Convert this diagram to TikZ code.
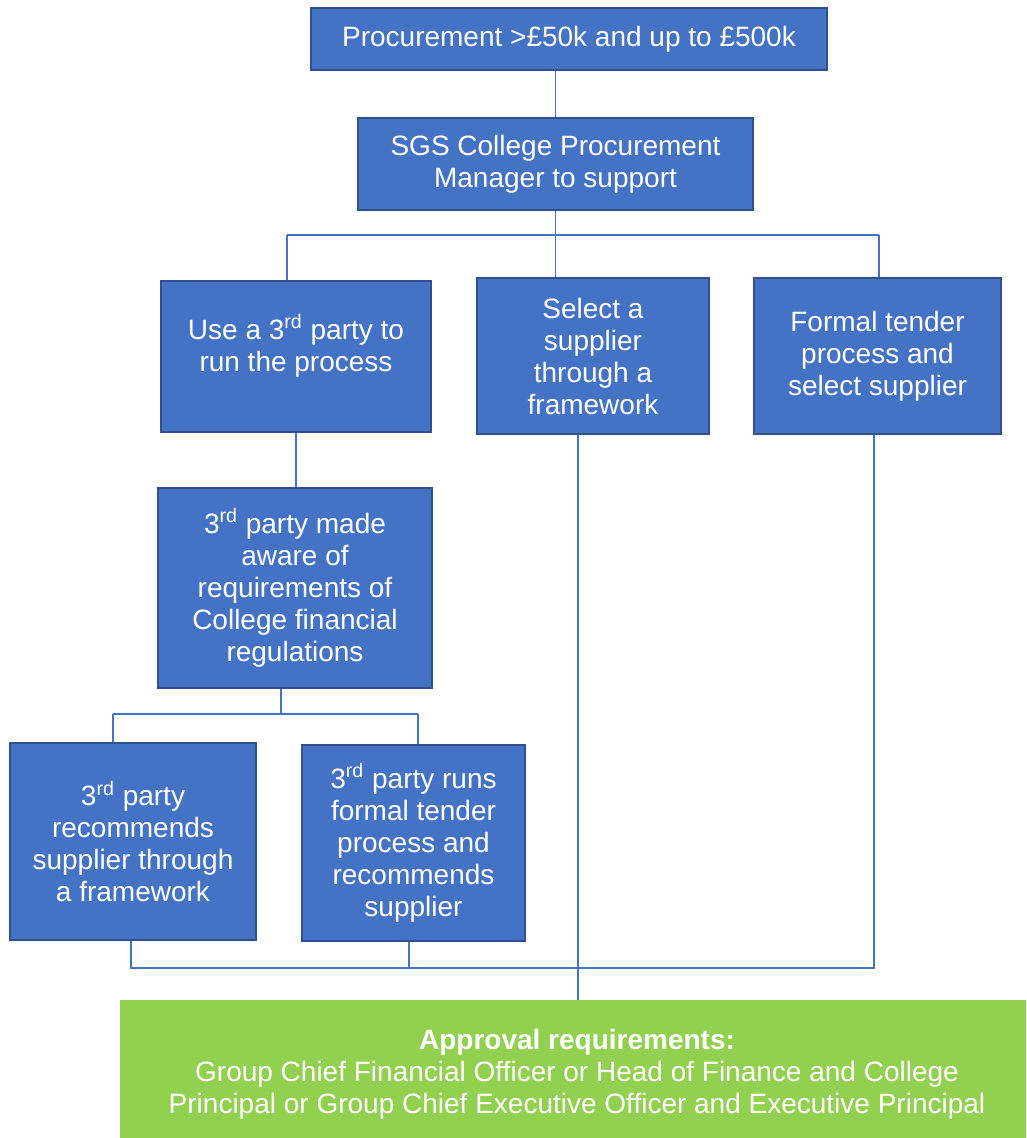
\documentclass[tikz,border=0pt]{standalone}
\usepackage{fontspec}
\setmainfont{Liberation Sans}
\definecolor{boxblue}{HTML}{4472C4}
\definecolor{boxedge}{HTML}{2F528F}
\definecolor{appgreen}{HTML}{92D050}
\begin{document}
\begin{tikzpicture}[x=0.5pt,y=-0.5pt,
  bbox/.style={draw=boxedge, line width=1pt, fill=boxblue, text=white, align=center,
    font=\fontsize{14}{16}\selectfont, inner sep=0pt},
  btext/.style={text=white, align=center, font=\fontsize{14}{16}\selectfont, inner sep=0pt},
  gbox/.style={fill=appgreen, inner sep=0pt},
  conn/.style={draw=boxblue, line width=0.75pt}]
\useasboundingbox (0,0) rectangle (1026,1138);

\node[bbox, minimum width=258pt, minimum height=31pt] (top) at (569,39) {Procurement >£50k and up to £500k};
\node[bbox, minimum width=197.5pt, minimum height=46pt] (sgs) at (555.5,164) {SGS College Procurement\\Manager to support};
\node[bbox, minimum width=135pt, minimum height=75.5pt] (use) at (296,356.5) {};
\node[btext] (usetxt) at (296,346) {Use a 3\textsuperscript{rd} party to\\run the process};
\node[bbox, minimum width=116pt, minimum height=78pt] (sel) at (593,356) {Select a\\supplier\\through a\\framework};
\node[bbox, minimum width=123.5pt, minimum height=78pt] (formal) at (877.5,356) {Formal tender\\process and\\select supplier};
\node[bbox, minimum width=137pt, minimum height=100pt] (aware) at (295,588) {3\textsuperscript{rd} party made\\aware of\\requirements of\\College financial\\regulations};
\node[bbox, minimum width=123pt, minimum height=98.5pt] (rec) at (133,841.5) {3\textsuperscript{rd} party\\recommends\\supplier through\\a framework};
\node[bbox, minimum width=111.5pt, minimum height=98pt] (runs) at (413.5,843) {3\textsuperscript{rd} party runs\\formal tender\\process and\\recommends\\supplier};
\node[gbox, minimum width=453pt, minimum height=69pt] (appr) at (573,1069) {};
\node[btext] (apprtxt) at (577,1074) {\textbf{Approval requirements:}\\Group Chief Financial Officer or Head of Finance and College\\Principal or Group Chief Executive Officer and Executive Principal};

% top -> sgs
\draw[conn] (top.south -| sgs.north) -- (sgs.north);
% sgs -> three options
\coordinate (busAL) at (287,235);
\coordinate (busAR) at (879,235);
\draw[conn] (sgs.south) -- (sgs.south |- sel.north);
\draw[conn] (busAL) -- (busAR);
\draw[conn] (busAL) -- (busAL |- use.north);
\draw[conn] (busAR) -- (busAR |- formal.north);
% use -> aware
\draw[conn] (use.south) -- (use.south |- aware.north);
% aware -> children
\coordinate (busB) at (281,714);
\coordinate (busBL) at (113,714);
\coordinate (busBR) at (418,714);
\draw[conn] (busB |- aware.south) -- (busB);
\draw[conn] (busBL) -- (busBR);
\draw[conn] (busBL) -- (busBL |- rec.north);
\draw[conn] (busBR) -- (busBR |- runs.north);
% bottom bus
\coordinate (busCL) at (131,968);
\coordinate (busCM) at (409,968);
\coordinate (busCR) at (874,968);
\draw[conn] (busCL |- rec.south) -- (busCL) -- (busCR) -- (busCR |- formal.south);
\draw[conn] (busCM |- runs.south) -- (busCM);
% select -> approval
\coordinate (selx) at (578,434);
\draw[conn] (selx |- sel.south) -- (selx |- appr.north);
\end{tikzpicture}
\end{document}
